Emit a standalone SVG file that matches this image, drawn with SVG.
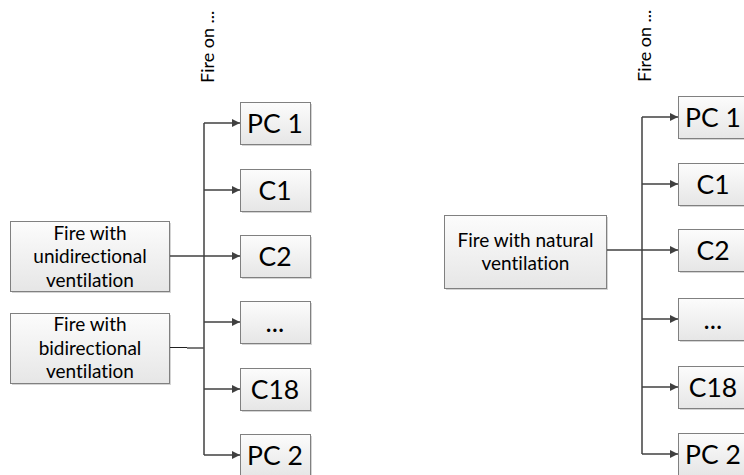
<svg xmlns="http://www.w3.org/2000/svg" width="744" height="475" viewBox="0 0 744 475">
  <defs>
    <linearGradient id="g" x1="0" y1="0" x2="0" y2="1">
      <stop offset="0" stop-color="#fcfcfc"/>
      <stop offset="1" stop-color="#e6e6e6"/>
    </linearGradient>
    <marker id="arr" viewBox="0 0 10 10" refX="10" refY="5" markerWidth="9" markerHeight="8" markerUnits="userSpaceOnUse" orient="auto">
      <path d="M0,0 L10,5 L0,10 z" fill="#404040"/>
    </marker>
  </defs>
  <style>
    .box { fill: url(#g); stroke: #808080; stroke-width: 1; }
    .sh { fill: #d4d4d4; }
    .t { font-family: Lato, "Liberation Sans", sans-serif; fill: #000; text-anchor: middle; font-variant-ligatures: none; }
    .lbl { font-size: 19px; }
    .big { font-size: 26.5px; }
    .c { fill: none; stroke: #404040; stroke-width: 1.5; }
    .a { fill: none; stroke: #404040; stroke-width: 1.5; marker-end: url(#arr); }
    .vt { font-family: Lato, "Liberation Sans", sans-serif; font-size: 18px; fill: #000; font-variant-ligatures: none; }
  </style>

  <!-- Left diagram -->
  <text class="vt" transform="translate(214,83) rotate(-90)">Fire on ...</text>

  <g id="L-uni">
    <rect class="sh" x="12" y="223" width="159" height="70"/>
    <rect class="box" x="10.5" y="221.5" width="159" height="70"/>
    <text class="t lbl" x="90" y="240">Fire with</text>
    <text class="t lbl" x="90" y="263">unidirectional</text>
    <text class="t lbl" x="90" y="287">ventilation</text>
  </g>
  <g id="L-bi">
    <rect class="sh" x="12" y="315" width="159" height="70"/>
    <rect class="box" x="10.5" y="313.5" width="159" height="70"/>
    <text class="t lbl" x="90" y="331">Fire with</text>
    <text class="t lbl" x="90" y="355">bidirectional</text>
    <text class="t lbl" x="90" y="378">ventilation</text>
  </g>

  <g id="L-PC1">
    <rect class="sh" x="242" y="104" width="70" height="42"/>
    <rect class="box" x="240.5" y="102.5" width="70" height="42"/>
    <text class="t big" x="275" y="133">PC 1</text>
  </g>
  <g id="L-C1">
    <rect class="sh" x="242" y="171" width="70" height="42"/>
    <rect class="box" x="240.5" y="169.5" width="70" height="42"/>
    <text class="t big" x="275" y="200">C1</text>
  </g>
  <g id="L-C2">
    <rect class="sh" x="242" y="237" width="70" height="42"/>
    <rect class="box" x="240.5" y="235.5" width="70" height="42"/>
    <text class="t big" x="275" y="266">C2</text>
  </g>
  <g id="L-dots">
    <rect class="sh" x="242" y="303" width="70" height="42"/>
    <rect class="box" x="240.5" y="301.5" width="70" height="42"/>
    <text class="t big" x="275" y="332">...</text>
  </g>
  <g id="L-C18">
    <rect class="sh" x="242" y="370" width="70" height="42"/>
    <rect class="box" x="240.5" y="368.5" width="70" height="42"/>
    <text class="t big" x="275" y="399">C18</text>
  </g>
  <g id="L-PC2">
    <rect class="sh" x="242" y="436" width="70" height="42"/>
    <rect class="box" x="240.5" y="434.5" width="70" height="42"/>
    <text class="t big" x="275" y="465">PC 2</text>
  </g>

  <!-- Right diagram -->
  <text class="vt" transform="translate(651,82) rotate(-90)">Fire on ...</text>

  <g id="R-nat">
    <rect class="sh" x="446" y="217" width="162" height="73"/>
    <rect class="box" x="444.5" y="215.5" width="162" height="73"/>
    <text class="t lbl" x="525.5" y="247">Fire with natural</text>
    <text class="t lbl" x="525.5" y="270">ventilation</text>
  </g>

  <g id="R-PC1">
    <rect class="sh" x="680" y="98" width="70" height="42"/>
    <rect class="box" x="678.5" y="96.5" width="70" height="42"/>
    <text class="t big" x="713" y="127">PC 1</text>
  </g>
  <g id="R-C1">
    <rect class="sh" x="680" y="165" width="70" height="42"/>
    <rect class="box" x="678.5" y="163.5" width="70" height="42"/>
    <text class="t big" x="713" y="194">C1</text>
  </g>
  <g id="R-C2">
    <rect class="sh" x="680" y="231" width="70" height="42"/>
    <rect class="box" x="678.5" y="229.5" width="70" height="42"/>
    <text class="t big" x="713" y="260">C2</text>
  </g>
  <g id="R-dots">
    <rect class="sh" x="680" y="300" width="70" height="42"/>
    <rect class="box" x="678.5" y="298.5" width="70" height="42"/>
    <text class="t big" x="713" y="329">...</text>
  </g>
  <g id="R-C18">
    <rect class="sh" x="680" y="368" width="70" height="42"/>
    <rect class="box" x="678.5" y="366.5" width="70" height="42"/>
    <text class="t big" x="713" y="397">C18</text>
  </g>
  <g id="R-PC2">
    <rect class="sh" x="680" y="435" width="70" height="42"/>
    <rect class="box" x="678.5" y="433.5" width="70" height="42"/>
    <text class="t big" x="713" y="464">PC 2</text>
  </g>

  <g id="connectors">
    <!-- left -->
    <path class="c" d="M204,123 V455"/>
    <path class="a" d="M204,123 H240"/>
    <path class="a" d="M204,190 H240"/>
    <path class="a" d="M170,256 H240"/>
    <path class="a" d="M204,322 H240"/>
    <path class="a" d="M204,389 H240"/>
    <path class="a" d="M204,455 H240"/>
    <path d="M170,347.5 H187" fill="none" stroke="#202020" stroke-width="1"/>
    <path d="M187,348 H204" fill="none" stroke="#505050" stroke-width="1.5"/>
    <!-- right -->
    <path class="c" d="M642,117 V454"/>
    <path class="a" d="M642,117 H678"/>
    <path class="a" d="M642,184 H678"/>
    <path class="a" d="M607,250 H678"/>
    <path class="a" d="M642,319 H678"/>
    <path class="a" d="M642,387 H678"/>
    <path class="a" d="M642,454 H678"/>
  </g>
</svg>
